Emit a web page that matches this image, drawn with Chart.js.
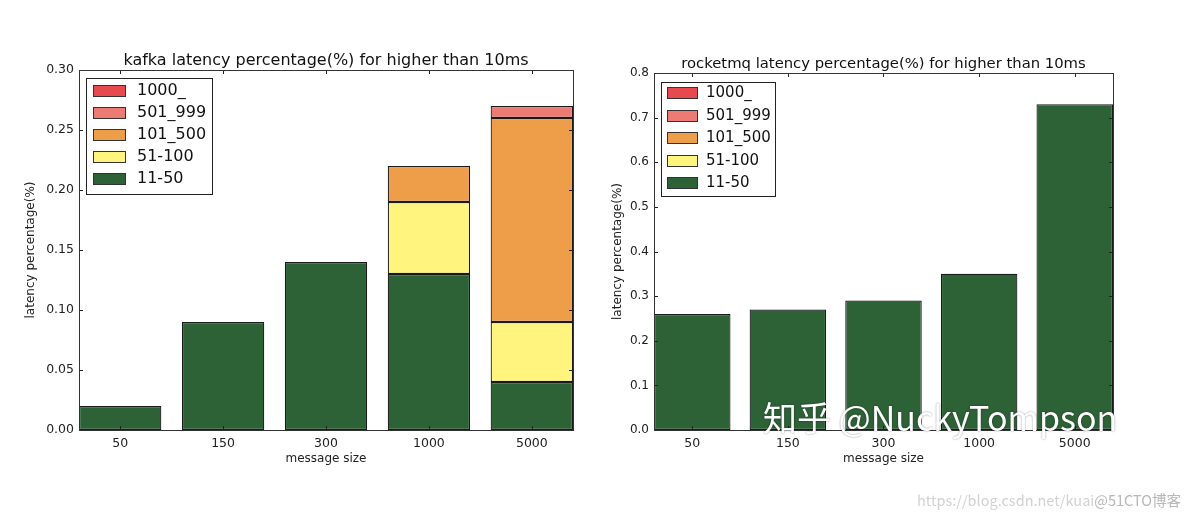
<!DOCTYPE html>
<html>
<head>
<meta charset="utf-8">
<script src="https://cdn.jsdelivr.net/npm/chart.js@4.4.1/dist/chart.umd.min.js"></script>
<style>
  body { margin: 0; background: #fff; width: 1184px; height: 515px; position: relative; overflow: hidden; font-family: "DejaVu Sans", sans-serif; }
  .box { position: absolute; top: 0; }
  .mark { position: absolute; left: 763px; top: 392px; font: 34px "Noto Sans CJK SC", "Noto Sans", sans-serif; color: #fff; text-shadow: 0 0 2px rgba(0,0,0,0.45); white-space: nowrap; }
  .csdn { position: absolute; left: 917px; top: 489px; font: 14.5px "Noto Sans CJK SC", sans-serif; color: #d2d2d2; white-space: nowrap; }
  .csdn span { color: #b8b8b8; }
</style>
</head>
<body>
<div class="box" style="left:0"><canvas id="kafka" width="590" height="515"></canvas></div>
<div class="box" style="left:595px"><canvas id="rocket" width="589" height="515"></canvas></div>
<div class="mark">知乎 @NuckyTompson</div>
<div class="csdn">https://blog.csdn.net/kuai<span>@51CTO博客</span></div>
<script>
// data
const sizes = ["50", "150", "300", "1000", "5000"];
const seriesNames = ["11-50", "51-100", "101_500", "501_999", "1000_"];
const seriesColors = ["#2d6136", "#fff57e", "#ee9d48", "#ec7b73", "#e64a4e"];

const kafka11 = [0.02, 0.09, 0.14, 0.13, 0.04];
const kafka51 = [0, 0, 0, 0.06, 0.05];
const kafka101 = [0, 0, 0, 0.03, 0.17];
const kafka501 = [0, 0, 0, 0, 0.01];
const kafka1000 = [0, 0, 0, 0, 0];

const rocket11 = [0.26, 0.27, 0.29, 0.35, 0.73];
const rocket51 = [0, 0, 0, 0, 0];
const rocket101 = [0, 0, 0, 0, 0];
const rocket501 = [0, 0, 0, 0, 0];
const rocket1000 = [0, 0, 0, 0, 0];

const kafkaTicks = [0, 0.05, 0.10, 0.15, 0.20, 0.25, 0.30];
const rocketTicks = [0, 0.1, 0.2, 0.3, 0.4, 0.5, 0.6, 0.7, 0.8];

const font = "DejaVu Sans";

// matplotlib like title, frame, inward ticks and legend inside the plot
const framePlugin = {
    id: "frame",
    afterDraw(chart, args, opts) {
        const ctx = chart.ctx;
        const a = chart.chartArea;
        const xs = chart.scales.x, ys = chart.scales.y;
        ctx.save();

        ctx.fillStyle = "#111";
        ctx.font = opts.titleSize + "px " + font;
        ctx.textAlign = "center";
        ctx.textBaseline = "middle";
        ctx.fillText(opts.title, (a.left + a.right) / 2, a.top - 9);
        ctx.textAlign = "left";

        ctx.strokeStyle = "#222";
        ctx.lineWidth = 1;
        ctx.beginPath();
        xs.ticks.forEach(t => {
            const px = Math.round(xs.getPixelForValue(t.value)) + 0.5;
            ctx.moveTo(px, a.bottom); ctx.lineTo(px, a.bottom - 4);
            ctx.moveTo(px, a.top); ctx.lineTo(px, a.top + 4);
        });
        ys.ticks.forEach(t => {
            const py = Math.round(ys.getPixelForValue(t.value)) + 0.5;
            ctx.moveTo(a.left, py); ctx.lineTo(a.left + 4, py);
            ctx.moveTo(a.right, py); ctx.lineTo(a.right - 4, py);
        });
        ctx.stroke();
        ctx.strokeStyle = "#333";
        ctx.strokeRect(Math.round(a.left) + 0.5, Math.round(a.top) + 0.5, Math.round(a.right - a.left), Math.round(a.bottom - a.top));

        // legend
        const lx = Math.round(a.left) + opts.dx, ly = Math.round(a.top) + opts.dy;
        const rows = chart.data.datasets.slice().reverse();
        ctx.fillStyle = "#fff";
        ctx.strokeStyle = "#222";
        ctx.fillRect(lx + 0.5, ly + 0.5, opts.w, opts.h);
        ctx.strokeRect(lx + 0.5, ly + 0.5, opts.w, opts.h);
        ctx.font = opts.fontSize + "px " + font;
        rows.forEach((ds, i) => {
            const cy = Math.round(ly + opts.first + i * opts.step);
            ctx.fillStyle = ds.backgroundColor;
            ctx.fillRect(lx + opts.px + 0.5, cy - 5.5, opts.pw, 11);
            ctx.strokeStyle = "#333";
            ctx.strokeRect(lx + opts.px + 0.5, cy - 5.5, opts.pw, 11);
            ctx.fillStyle = "#111";
            ctx.fillText(ds.label, lx + opts.tx, cy);
        });
        ctx.restore();
    }
};

function makeChart(id, title, series, yTicks, digits, opt) {
    new Chart(document.getElementById(id), {
        type: "bar",
        data: {
            datasets: series.map((vals, k) => ({
                label: seriesNames[k],
                // empty segments are left out so they leave no edge line
                data: vals.map((v, i) => ({ x: i, y: v === 0 ? null : v })),
                backgroundColor: seriesColors[k],
                borderColor: "#1a1a1a",
                borderWidth: 1.2,
                borderSkipped: false,
                barPercentage: 0.8,
                categoryPercentage: 1.0
            }))
        },
        options: {
            responsive: false,
            animation: false,
            layout: { padding: { left: opt.padLeft, right: opt.padRight, top: opt.padTop, bottom: 47 } },
            plugins: {
                legend: { display: false },
                tooltip: { enabled: false },
                title: { display: false },
                frame: Object.assign({ title: title }, opt.legend)
            },
            scales: {
                x: {
                    type: "linear",
                    stacked: true,
                    offset: false,
                    min: -0.4,
                    max: 4.4,
                    grid: { display: false, drawTicks: false },
                    border: { display: false },
                    afterBuildTicks: s => { s.ticks = sizes.map((c, i) => ({ value: i })); },
                    afterFit: s => { s.height = 38; },
                    ticks: {
                        padding: 6,
                        color: "#222",
                        font: { family: font, size: 12.5 },
                        callback: v => sizes[v]
                    },
                    title: {
                        display: true,
                        text: "message size",
                        color: "#222",
                        font: { family: font, size: 12 },
                        padding: { top: 0, bottom: 2 }
                    }
                },
                y: {
                    stacked: true,
                    min: yTicks[0],
                    max: yTicks[yTicks.length - 1],
                    grid: { display: false, drawTicks: false },
                    border: { display: false },
                    afterBuildTicks: s => { s.ticks = yTicks.map(v => ({ value: v })); },
                    afterFit: s => { s.width = opt.yWidth; },
                    ticks: {
                        padding: 5,
                        color: "#222",
                        font: { family: font, size: opt.yTickSize },
                        callback: v => Number(v).toFixed(digits)
                    },
                    title: {
                        display: true,
                        text: "latency percentage(%)",
                        color: "#222",
                        font: { family: font, size: 12 },
                        padding: { top: 2, bottom: 0 }
                    }
                }
            }
        },
        plugins: [framePlugin]
    });
}

makeChart("kafka", "kafka latency percentage(%) for higher than 10ms",
    [kafka11, kafka51, kafka101, kafka501, kafka1000], kafkaTicks, 2,
    { padLeft: 22, padRight: 17, padTop: 70, yWidth: 57, yTickSize: 12.5,
      legend: { titleSize: 16, dx: 7, dy: 8, w: 126, h: 116, px: 7, pw: 32, tx: 51, first: 13, step: 22, fontSize: 16 } });

makeChart("rocket", "rocketmq latency percentage(%) for higher than 10ms",
    [rocket11, rocket51, rocket101, rocket501, rocket1000], rocketTicks, 1,
    { padLeft: 14, padRight: 71, padTop: 73, yWidth: 45, yTickSize: 12,
      legend: { titleSize: 14.8, dx: 7, dy: 9, w: 114, h: 114, px: 6, pw: 30, tx: 45, first: 11, step: 22.5, fontSize: 15 } });
</script>
</body>
</html>
